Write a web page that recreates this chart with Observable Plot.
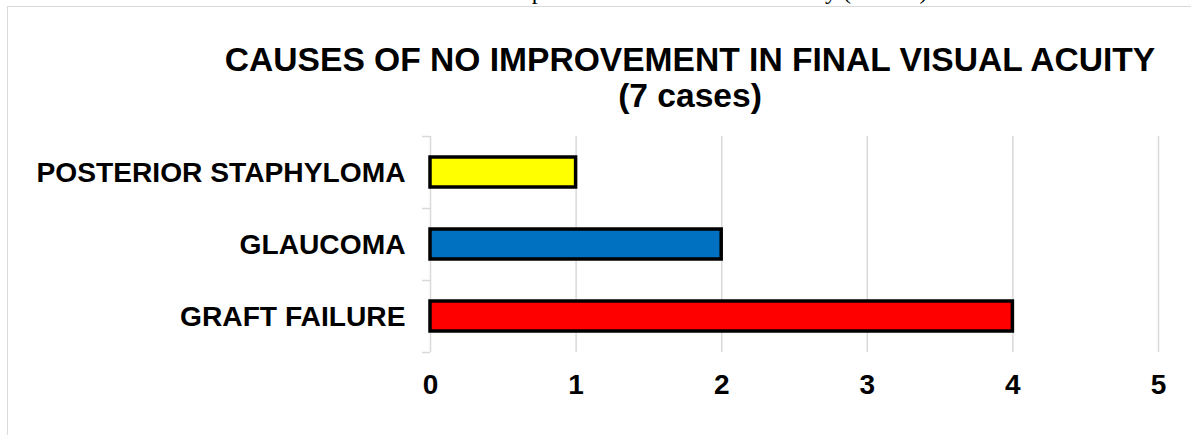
<!DOCTYPE html>
<html><head><meta charset="utf-8">
<script src="https://cdn.jsdelivr.net/npm/d3@7"></script>
<script src="https://cdn.jsdelivr.net/npm/@observablehq/plot@0.6"></script>
<style>
html,body{margin:0;padding:0;background:#fff;overflow:hidden;}
#wrap{position:relative;width:1191px;height:435px;overflow:hidden;}
#frame{position:absolute;left:7px;top:6px;width:1300px;height:500px;border:1.5px solid #d9d9d9;box-sizing:border-box;}
#caption{position:absolute;left:0;width:1220px;text-align:center;top:-22px;font-family:"Liberation Serif","Times New Roman",serif;font-size:24px;color:#000;white-space:nowrap;}
#title{position:absolute;left:190px;width:1000px;text-align:center;top:42px;font-family:"Liberation Sans",Arial,sans-serif;font-weight:bold;font-size:33.6px;line-height:36px;color:#000;}
#chart{position:absolute;left:0;top:0;}
</style></head>
<body>
<div id="wrap">
<div id="caption">Chart 5: Causes of no improvement in final visual acuity (7 cases)</div>
<div id="frame"></div>
<div id="title">CAUSES OF NO IMPROVEMENT IN FINAL VISUAL ACUITY<br>(7 cases)</div>
<div id="chart"></div>
</div>
<script>
const categories = ["POSTERIOR STAPHYLOMA", "GLAUCOMA", "GRAFT FAILURE"];
const counts = [1, 2, 4];
const colors = ["#FFFF00", "#0070C0", "#FF0000"];
const xTicks = [0, 1, 2, 3, 4, 5];

const data = categories.map((c, i) => ({cause: c, n: counts[i], color: colors[i]}));

const chart = Plot.plot({
  width: 1191,
  height: 435,
  marginLeft: 430,
  marginRight: 33,
  marginTop: 136,
  marginBottom: 83,
  style: {fontFamily: "'Liberation Sans', Arial, sans-serif", background: "transparent", overflow: "visible"},
  x: {domain: [0, 5]},
  y: {domain: categories, padding: 0, label: null},
  marks: [
    Plot.gridX(xTicks, {stroke: "#d9d9d9", strokeOpacity: 1, strokeWidth: 1.5}),
    Plot.axisY({tickSize: 8, tickFormat: () => "", dy: -36, stroke: "#d9d9d9", strokeWidth: 1.5, strokeOpacity: 1, label: null}),
    Plot.axisY(["GRAFT FAILURE"], {tickSize: 8, tickFormat: () => "", dy: 36, stroke: "#d9d9d9", strokeWidth: 1.5, strokeOpacity: 1, label: null}),
    Plot.barX(data, {x: "n", y: "cause", fill: "color", stroke: "#000", strokeWidth: 3.5, insetTop: 21, insetBottom: 21}),
    Plot.axisY({tickSize: 0, tickPadding: 25, fontSize: 28.2, fontWeight: "bold", fill: "#000", label: null}),
    Plot.axisX(xTicks, {tickSize: 0, tickPadding: 22, fontSize: 28, fontWeight: "bold", fill: "#000", label: null, tickFormat: d3.format("d")})
  ]
});
document.getElementById("chart").appendChild(chart);
</script>
</body></html>
